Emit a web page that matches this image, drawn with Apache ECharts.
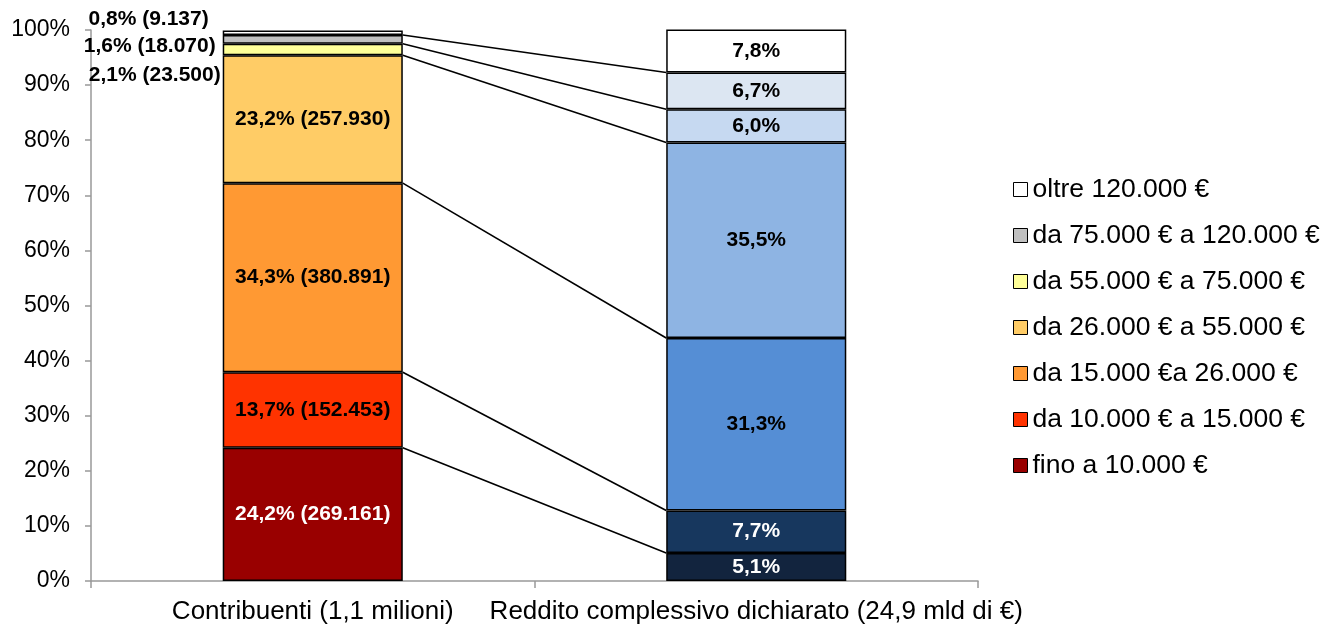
<!DOCTYPE html>
<html>
<head>
<meta charset="utf-8">
<script src="https://cdn.jsdelivr.net/npm/echarts@6/dist/echarts.min.js"></script>
<style>html,body{margin:0;padding:0;background:#fff;}#c{width:1325px;height:629px;}</style>
</head>
<body>
<div id="c"></div>
<script>
const categories = ['Contribuenti (1,1 milioni)', 'Reddito complessivo dichiarato (24,9 mld di €)'];
const bands = ['fino a 10.000 €', 'da 10.000 € a 15.000 €', 'da 15.000 €a 26.000 €', 'da 26.000 € a 55.000 €', 'da 55.000 € a 75.000 €', 'da 75.000 € a 120.000 €', 'oltre 120.000 €'];
const contribPct = [24.2, 13.7, 34.3, 23.2, 2.1, 1.6, 0.8];
const contribCount = [269161, 152453, 380891, 257930, 23500, 18070, 9137];
const redditoPct = [5.1, 7.7, 31.3, 35.5, 6.0, 6.7, 7.8];
const yTicks = [0, 10, 20, 30, 40, 50, 60, 70, 80, 90, 100];

const leftColors = ['#990000', '#FF3300', '#FF9933', '#FFCC66', '#FFFF99', '#C0C0C0', '#FFFFFF'];
const rightColors = ['#12243E', '#17375E', '#558ED5', '#8EB4E3', '#C6D9F1', '#DCE6F2', '#FFFFFF'];
const leftLabelColors = ['#fff', '#000', '#000', '#000', '#000', '#000', '#000'];
const rightLabelColors = ['#fff', '#fff', '#000', '#000', '#000', '#000', '#000'];
const BAR_RATIO = 0.406;

function pct(v) { return v.toFixed(1).replace('.', ',') + '%'; }
function num(v) { return String(v).replace(/\B(?=(\d{3})+(?!\d))/g, '.'); }

// outside labels for small left segments
const outsideLabel = {
  4: { distance: 2, offset: [0, 26] },
  5: { distance: 7, offset: [0, 7] },
  6: { distance: 14, offset: [0, -14] }
};

const labelFont = { fontFamily: 'Liberation Sans, Arial, sans-serif', fontSize: 21, fontWeight: 'bold' };

const series = bands.map((name, k) => {
  const leftLabel = Object.assign({
    show: true,
    formatter: pct(contribPct[k]) + ' (' + num(contribCount[k]) + ')',
    color: leftLabelColors[k]
  }, labelFont);
  if (outsideLabel[k]) {
    leftLabel.position = 'left';
    leftLabel.distance = outsideLabel[k].distance;
    leftLabel.offset = outsideLabel[k].offset;
    leftLabel.color = '#000';
  } else {
    leftLabel.position = 'inside';
  }
  return {
    name: name,
    type: 'bar',
    stack: 'all',
    barWidth: (BAR_RATIO * 100) + '%',
    itemStyle: { color: leftColors[k], borderColor: '#000', borderWidth: 1.5 },
    data: [
      { value: contribPct[k], itemStyle: { color: leftColors[k] }, label: leftLabel },
      { value: redditoPct[k], itemStyle: { color: rightColors[k] },
        label: Object.assign({ show: true, position: 'inside', formatter: pct(redditoPct[k]), color: rightLabelColors[k] }, labelFont) }
    ],
    z: 3
  };
});

// series lines: top of each segment (except last)
const connData = [];
let cl = 0, cr = 0;
for (let k = 0; k < bands.length - 1; k++) {
  cl += contribPct[k];
  cr += redditoPct[k];
  connData.push([0, cl, cr]);
}
series.push({
  type: 'custom',
  name: 'conn',
  encode: { x: 0, y: 1 },
  data: connData,
  silent: true,
  z: 2,
  renderItem: function (params, api) {
    const a = api.coord([0, api.value(1)]);
    const b = api.coord([1, api.value(2)]);
    const band = api.size([1, 0])[0];
    const half = band * BAR_RATIO / 2;
    return {
      type: 'line',
      shape: { x1: a[0] + half, y1: a[1], x2: b[0] - half, y2: b[1] },
      style: { stroke: '#000', lineWidth: 1.6 }
    };
  }
});

const chart = echarts.init(document.getElementById('c'), null, { renderer: 'canvas' });
chart.setOption({
  animation: false,
  backgroundColor: '#fff',
  grid: { left: 91, right: 347, top: 30, bottom: 48, containLabel: false },
  legend: {
    orient: 'vertical',
    left: 1008,
    top: 171,
    data: bands.slice().reverse(),
    icon: 'rect',
    itemWidth: 14,
    itemHeight: 14,
    itemGap: 19,
    itemStyle: { borderColor: '#000', borderWidth: 1 },
    textStyle: { fontFamily: 'Liberation Sans, Arial, sans-serif', fontSize: 26.5, color: '#000', lineHeight: 26 }
  },
  xAxis: {
    type: 'category',
    data: categories,
    axisLine: { lineStyle: { color: '#999', width: 1.5 } },
    axisTick: { show: true, length: 7, alignWithLabel: false, lineStyle: { color: '#999', width: 1.5 } },
    axisLabel: { fontFamily: 'Liberation Sans, Arial, sans-serif', fontSize: 26, color: '#000', margin: 18, interval: 0 }
  },
  yAxis: {
    type: 'value',
    min: yTicks[0],
    max: yTicks[yTicks.length - 1],
    interval: yTicks[1] - yTicks[0],
    splitLine: { show: false },
    axisLine: { show: true, lineStyle: { color: '#999', width: 1.5 } },
    axisTick: { show: true, length: 6, lineStyle: { color: '#999', width: 1.5 } },
    axisLabel: { fontFamily: 'Liberation Sans, Arial, sans-serif', fontSize: 23, color: '#000', margin: 21, formatter: '{value}%' }
  },
  series: series
});
</script>
</body>
</html>
